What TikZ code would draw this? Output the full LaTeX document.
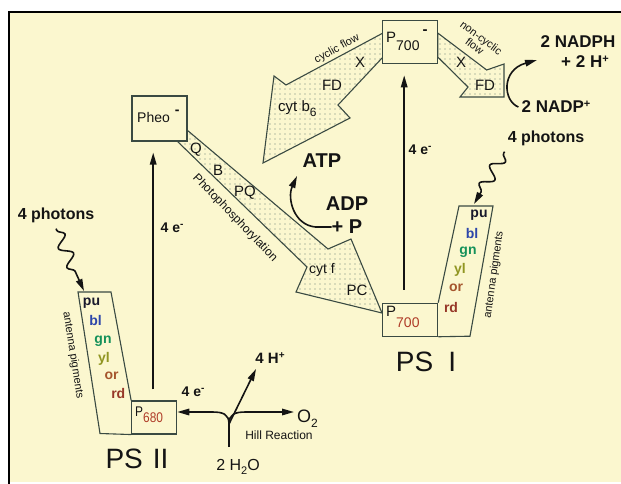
\documentclass[tikz,border=0pt]{standalone}
\usepackage{fontspec}
\setmainfont{Liberation Sans}
\newfontfamily\nar[FakeStretch=0.85]{Liberation Sans}
\usetikzlibrary{arrows.meta,patterns.meta,decorations.pathmorphing}
\newcommand\fsz[1]{\fontsize{#1}{#1}\selectfont}
\definecolor{bg}{RGB}{251,247,207}
\definecolor{ln}{RGB}{58,74,66}
\definecolor{dotc}{RGB}{105,130,120}
\definecolor{txt}{RGB}{20,20,20}
\definecolor{cpu}{RGB}{25,25,45}
\definecolor{cbl}{RGB}{45,70,170}
\definecolor{cgn}{RGB}{20,145,90}
\definecolor{cyl}{RGB}{145,150,35}
\definecolor{cor}{RGB}{165,85,45}
\definecolor{crd}{RGB}{150,55,40}
\definecolor{cred}{RGB}{175,60,40}
\begin{document}
\begin{tikzpicture}[x=1pt,y=-1pt,
  box/.style={draw=ln,line width=1.1pt,fill=bg,inner sep=0pt},
  band/.style={draw=ln,line width=1.1pt,pattern={Dots[distance=5pt,radius=0.65pt]},pattern color=dotc,line join=miter},
  ant/.style={draw=ln,line width=1.1pt,line join=miter},
  arr/.style={draw=txt,line width=1.6pt,-{Triangle[length=12pt,width=6.5pt]}},
  lbl/.style={inner sep=0pt,text=txt},
  pig/.style={inner sep=0pt,font=\fsz{14}\bfseries},
  blab/.style={lbl,font=\fsz{15}},
  wave/.style={arr,decorate,decoration={snake,amplitude=6pt,segment length=21pt,pre length=2pt,post length=13pt}}
]
\useasboundingbox (0,0) rectangle (621,484);
\fill[white] (0,0) rectangle (621,484);
\fill[bg] (10,13) rectangle (621,482);
\draw[line width=2.5pt,black] (9,484) -- (9,12) -- (621,12);

% big bands
\path[band] (187,130) -- (328,249) -- (351,239) -- (382,313) -- (296,292) -- (307,267) -- (177,141) -- cycle;
\path[band] (383,33) -- (286,85) -- (274,76) -- (263,163) -- (350,118) -- (338,105) -- (383,57) -- cycle;
\path[band] (437.7,33) -- (486.7,70) -- (504,64) -- (504,97) -- (460,97) -- (468,87) -- (437.7,57) -- cycle;

% boxes
\node[box,minimum width=55pt,minimum height=45pt] (pheo) at (159.5,118.5) {};
\node[box,minimum width=55pt,minimum height=43pt] (p7top) at (410.2,42.3) {};
\node[box,minimum width=55pt,minimum height=33pt] (p700) at (410.2,319.7) {};
\node[box,minimum width=45pt,minimum height=33pt] (p680) at (154.2,417.5) {};

% antennae
\draw[ant] (p680.north west) -- (111,292) -- (78,292) -- (100,433.5) -- (p680.south west);
\draw[ant] (p700.north east) -- (459,206) -- (493,206) -- (470,336.2) -- (p700.south east);

% box texts
\node[lbl,anchor=base west,font=\fsz{14}] (pheot) at (137,123) {Pheo\hspace{5pt}\raisebox{8pt}{\bfseries -}};
\node[lbl,anchor=base west,font=\fsz{15}] (p7topt) at (386,43) {P\raisebox{-8pt}{\fsz{14}700}\hspace{3pt}\raisebox{8pt}{\bfseries -}};
\node[lbl,anchor=base west,font=\fsz{15}] (p700t) at (386,316) {P\raisebox{-11pt}{\fsz{14}\color{cred}700}};
\node[lbl,anchor=base west,font=\nar\fsz{14}] (p680t) at (135,416) {P\raisebox{-6pt}{\color{cred}680}};

% pigments PS II
\node[pig,text=cpu] (pu2) at (91.5,303) {pu};
\node[pig,text=cbl] (bl2) at (95.5,320) {bl};
\node[pig,text=cgn] (gn2) at (103,341) {gn};
\node[pig,text=cyl] (yl2) at (104,359) {yl};
\node[pig,text=cor] (or2) at (111.5,376) {or};
\node[pig,text=crd] (rd2) at (118.3,393) {rd};
% pigments PS I
\node[pig,text=cpu] (pu1) at (479,215) {pu};
\node[pig,text=cbl] (bl1) at (472,233) {bl};
\node[pig,text=cgn] (gn1) at (468,252) {gn};
\node[pig,text=cyl] (yl1) at (460,270) {yl};
\node[pig,text=cor] (or1) at (456,288) {or};
\node[pig,text=crd] (rd1) at (451,307) {rd};

\node[lbl,font=\fsz{11},rotate=-81] (antp2) at (73,355) {antenna pigments};
\node[lbl,font=\fsz{11},rotate=82] (antp1) at (494,274.5) {antenna pigments};

% band labels
\node[blab] (q) at (196,150) {Q};
\node[blab] (b) at (218,170) {B};
\node[blab] (pq) at (245,193) {PQ};
\node[lbl,font=\fsz{14}] (cytf) at (322,270) {cyt f};
\node[blab] (pc) at (357,290) {PC};
\node[lbl,font=\fsz{12},rotate=-46] (photo) at (235,218) {Photophosphorylation};
\node[blab] (xa) at (360,62) {X};
\node[blab] (fda) at (332,85) {FD};
\node[blab,anchor=base west] (cytb) at (278,112) {cyt b\raisebox{-5pt}{\fsz{12}6}};
\node[blab] (xb) at (461,62) {X};
\node[blab] (fdb) at (485,85) {FD};
\node[lbl,font=\fsz{11},rotate=29] (cyc) at (337,49) {cyclic flow};
\node[lbl,font=\fsz{11},rotate=-37,align=center] (ncyc) at (478,42) {non-cyclic\\flow};

% other labels
\node[lbl,font=\fsz{16}\bfseries] (ph2) at (56,215) {4 photons};
\node[lbl,font=\fsz{16}\bfseries] (ph1) at (546,138) {4 photons};
\node[lbl,font=\fsz{17}\bfseries] (nadph) at (578,42) {2 NADPH};
\node[lbl,font=\fsz{17}\bfseries] (h2p) at (585,62) {+ 2 H\raisebox{5pt}{\fsz{11}+}};
\node[lbl,font=\fsz{17}\bfseries] (nadp) at (556,107) {2 NADP\raisebox{5pt}{\fsz{11}+}};
\node[lbl,font=\fsz{20}\bfseries] (atp) at (322,161) {ATP};
\node[lbl,font=\fsz{20}\bfseries] (adp) at (347,204) {ADP};
\node[lbl,font=\fsz{20}\bfseries] (plusp) at (347,227) {+ P};
\node[lbl,font=\fsz{14}\bfseries] (e1) at (172,228) {4 e\raisebox{5pt}{\fsz{10}-}};
\node[lbl,font=\fsz{14}\bfseries] (e2) at (420,150) {4 e\raisebox{5pt}{\fsz{10}-}};
\node[lbl,font=\fsz{14}\bfseries] (e3) at (193,392) {4 e\raisebox{5pt}{\fsz{10}-}};
\node[lbl,font=\fsz{15}\bfseries] (hplus) at (270,358) {4 H\raisebox{5pt}{\fsz{10}+}};
\node[lbl,font=\fsz{18},anchor=base west] (o2) at (297,422) {O\raisebox{-5pt}{\fsz{12}2}};
\node[lbl,font=\fsz{12}] (hill) at (279,435) {Hill Reaction};
\node[lbl,font=\fsz{16}] (h2o) at (238,467) {2 H\raisebox{-4pt}{\fsz{11}2}O};
\node[lbl,font=\fsz{28}] (ps2) at (137,459) {PS\hspace{10pt}II};
\node[lbl,font=\fsz{28}] (ps1) at (426,362) {PS\hspace{15pt}I};

% vertical electron arrows
\draw[arr] ([xshift=-1pt,yshift=11pt]p680.north) -- ([xshift=-1pt,yshift=-11pt]p680.north |- pheo.south);
\draw[arr] ([xshift=-6pt,yshift=13pt]p700.north) -- ([xshift=-6pt,yshift=-11pt]p7top.south);

% photon waves
\coordinate (a2t) at (84,291);
\coordinate (a1t) at (474,204);
\draw[wave] ([yshift=-6pt]ph2.south) -- (a2t);
\draw[wave] ([xshift=-3pt,yshift=-6pt]ph1.south west) -- (a1t);

% ATP arrow
\coordinate (atpt) at (297,176);
\draw[arr] (plusp.west) -- +(-16,0) .. controls +(-22,-2) and +(-10,22) .. (atpt);

% NADP arrow
\coordinate (nt) at (537,60);
\draw[arr] ([xshift=-3pt]nadp.west) .. controls (503,101) and (501,70) .. (nt);

% Hill reaction
\coordinate (h0) at (229,424);
\coordinate (hb) at (229,447);
\coordinate (ho) at (294,412);
\coordinate (hh) at (256,369);
\draw[line width=1.6pt,txt] (hb) -- (h0);
\draw[arr] (h0) .. controls (229,414) and (223,412) .. (212,412) -- ([yshift=5.5pt]p680.east);
\draw[arr] (h0) .. controls (229,414) and (235,412) .. (246,412) -- (ho);
\draw[arr] (h0) -- (hh);
\end{tikzpicture}
\end{document}
